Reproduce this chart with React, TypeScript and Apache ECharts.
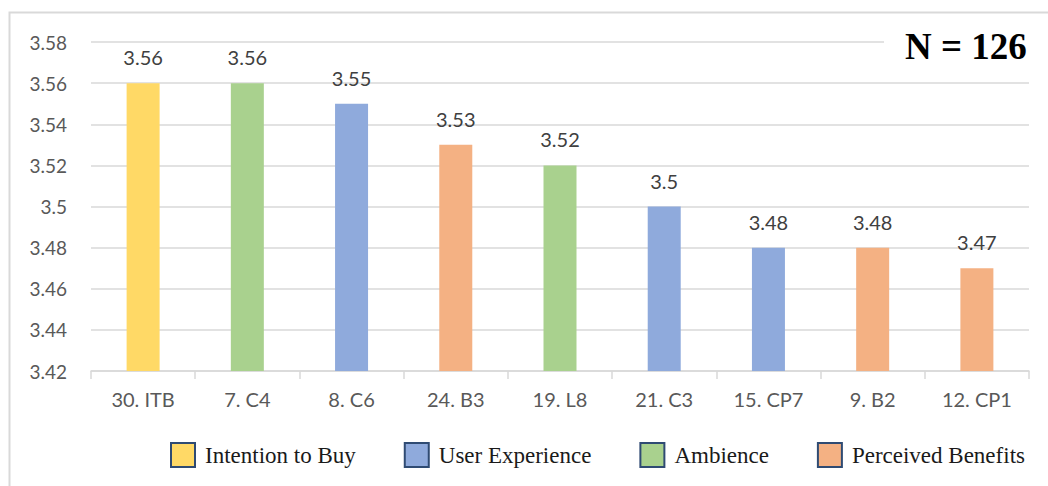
import React, { useEffect, useRef } from "react";
import * as echarts from "echarts";

const categories = ["30. ITB", "7. C4", "8. C6", "24. B3", "19. L8", "21. C3", "15. CP7", "9. B2", "12. CP1"];
const values = [3.56, 3.56, 3.55, 3.53, 3.52, 3.5, 3.48, 3.48, 3.47];
const groups = [
  "Intention to Buy",
  "Ambience",
  "User Experience",
  "Perceived Benefits",
  "Ambience",
  "User Experience",
  "User Experience",
  "Perceived Benefits",
  "Perceived Benefits",
];
const groupNames = ["Intention to Buy", "User Experience", "Ambience", "Perceived Benefits"];
const groupColors = ["#FFD966", "#8FAADC", "#A9D18E", "#F4B183"];
const yTicks = { min: 3.42, max: 3.58, interval: 0.02 };
const sampleLabel = "N = 126";

export default function App() {
  const ref = useRef<HTMLDivElement>(null);
  useEffect(() => {
    document.body.style.margin = "0";
    const chart = echarts.init(ref.current!, null, { renderer: "svg" });
    const sans = "Lato, 'Open Sans', sans-serif";
    const serif = "'Liberation Serif', 'DejaVu Serif', serif";
    const series = groupNames.map((g, gi) => ({
      name: g,
      type: "bar",
      barWidth: 33,
      barGap: "-100%",
      itemStyle: { color: groupColors[gi] },
      label: {
        show: true,
        position: "top",
        distance: 16,
        fontFamily: sans,
        fontSize: 20,
        color: "#404040",
        formatter: (p: any) => String(p.value),
      },
      data: values.map((v, i) => (groups[i] === g ? v : null)),
    }));
    chart.setOption({
      animation: false,
      grid: { left: 91, right: 19, top: 42, bottom: 115, containLabel: false },
      xAxis: {
        type: "category",
        data: categories,
        axisLine: { lineStyle: { color: "#D9D9D9", width: 1.5 } },
        axisTick: { show: true, length: 8, lineStyle: { color: "#D9D9D9", width: 1.5 } },
        axisLabel: { fontFamily: sans, fontSize: 20, color: "#595959", margin: 18 },
      },
      yAxis: {
        type: "value",
        min: yTicks.min,
        max: yTicks.max,
        interval: yTicks.interval,
        axisLine: { show: false },
        axisTick: { show: false },
        splitLine: { lineStyle: { color: "#D9D9D9", width: 1.5 } },
        axisLabel: {
          fontFamily: sans,
          fontSize: 19,
          color: "#595959",
          margin: 24,
          formatter: (v: number) => String(parseFloat(v.toFixed(2))),
        },
      },
      legend: {
        data: groupNames,
        left: 170,
        top: 442,
        padding: 0,
        icon: "rect",
        itemWidth: 24,
        itemHeight: 24,
        itemGap: 48,
        itemStyle: { borderColor: "#2F4B73", borderWidth: 2 },
        textStyle: { fontFamily: serif, fontSize: 23, color: "#1A1A1A", padding: [0, 0, 0, 5] },
      },
      graphic: [
        {
          type: "rect",
          z: -10,
          shape: { x: 9.5, y: 12.5, width: 1200, height: 800 },
          style: { fill: "none", stroke: "#D9D9D9", lineWidth: 2 },
          silent: true,
        },
        {
          type: "rect",
          z: 10,
          shape: { x: 884, y: 20, width: 150, height: 61 },
          style: { fill: "#FFFFFF" },
          silent: true,
        },
        {
          type: "text",
          z: 11,
          x: 905,
          y: 46,
          style: {
            text: sampleLabel,
            fontFamily: serif,
            fontWeight: "bold",
            fontSize: 37,
            fill: "#000000",
            textVerticalAlign: "middle",
            verticalAlign: "middle",
          },
        },
      ],
      series,
    });
    return () => chart.dispose();
  }, []);
  return <div ref={ref} style={{ width: 1048, height: 486 }} />;
}
